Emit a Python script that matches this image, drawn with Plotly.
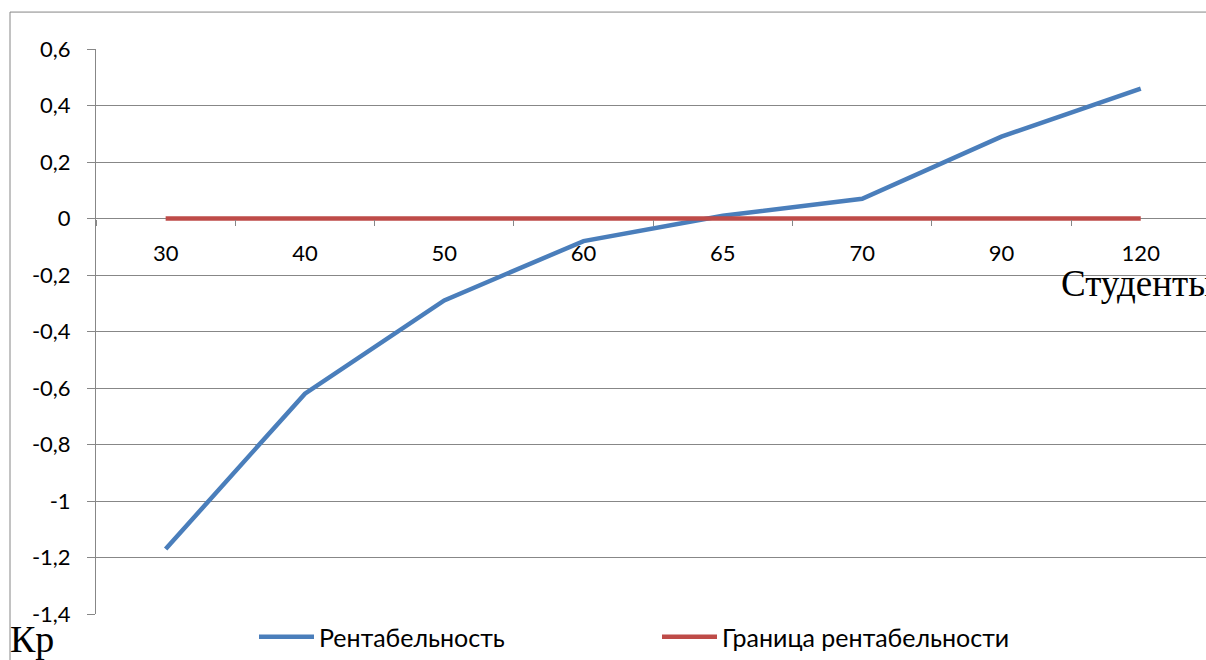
import plotly.graph_objects as go

categories = ["30", "40", "50", "60", "65", "70", "90", "120"]
rentabelnost = [-1.17, -0.62, -0.29, -0.08, 0.01, 0.07, 0.29, 0.46]
granitsa = [0, 0, 0, 0, 0, 0, 0, 0]
y_ticks = [0.6, 0.4, 0.2, 0, -0.2, -0.4, -0.6, -0.8, -1.0, -1.2, -1.4]

# body margin is removed below, so figure pixels == page pixels
W, H = 1206, 660
PLOT_L, PLOT_T, PLOT_B = 96, 49, 615
ML, MT, MR = PLOT_L, PLOT_T, 0
MB = H - PLOT_B
plot_w = W - ML - MR
plot_h = H - MT - MB
cat_w = 139.3

FONT = "Lato"
GRID = "#878787"

fig = go.Figure()
fig.add_trace(go.Scatter(
    x=categories, y=rentabelnost, mode="lines", name="Рентабельность",
    line=dict(color="#4a7ebb", width=4.5),
))
fig.add_trace(go.Scatter(
    x=categories, y=granitsa, mode="lines", name="Граница рентабельности",
    line=dict(color="#be4b48", width=4.5),
))

def px_x(px):
    return (px - PLOT_L) / plot_w

def px_y(py):
    return (PLOT_B - py) / plot_h

ytext = []
for v in y_ticks:
    if abs(v - round(v)) < 1e-9:
        ytext.append(str(int(round(v))))
    else:
        ytext.append(("%.1f" % v).replace(".", ","))

fig.update_layout(
    width=W, height=H,
    margin=dict(l=ML, r=MR, t=MT, b=MB),
    paper_bgcolor="white", plot_bgcolor="white",
    separators=", ",
    font=dict(family=FONT, size=22, color="#000000"),
    showlegend=True,
    legend=dict(
        orientation="h", x=px_x(254), xanchor="left", y=px_y(638), yanchor="middle",
        font=dict(family=FONT, size=25, color="#000000"),
        entrywidth=333, entrywidthmode="pixels",
        bgcolor="rgba(0,0,0,0)", itemwidth=55,
    ),
    xaxis=dict(
        type="category", range=[-0.5, -0.5 + plot_w / cat_w],
        tickson="boundaries", ticks="outside", ticklen=6, tickcolor=GRID, tickwidth=1,
        showgrid=False, showline=False, zeroline=False,
        anchor="free", position=1.4 / 2.0,
        tickfont=dict(family=FONT, size=22, color="#000000"),
        ticklabelstandoff=19,
    ),
    yaxis=dict(
        range=[-1.4, 0.6], tickmode="array", tickvals=y_ticks, ticktext=ytext,
        showgrid=True, gridcolor=GRID, gridwidth=1,
        zeroline=True, zerolinecolor=GRID, zerolinewidth=1,
        showline=True, linecolor=GRID, linewidth=1,
        ticks="outside", ticklen=8, tickcolor=GRID, tickwidth=1,
        tickfont=dict(family=FONT, size=22, color="#000000"),
        ticklabelstandoff=12,
    ),
)

# outer chart border
fig.add_shape(type="rect", xref="paper", yref="paper",
              x0=px_x(10), x1=px_x(1230), y0=px_y(700), y1=px_y(12),
              line=dict(color="#868686", width=1), fillcolor="rgba(0,0,0,0)", layer="below")

fig.add_annotation(text="Студенты", xref="paper", yref="paper",
                   x=px_x(1059), y=px_y(284), xanchor="left", yanchor="middle",
                   showarrow=False, font=dict(family="Liberation Serif", size=37, color="#000000"))
fig.add_annotation(text="Кр", xref="paper", yref="paper",
                   x=px_x(8), y=px_y(640), xanchor="left", yanchor="middle",
                   showarrow=False, font=dict(family="Liberation Serif", size=38, color="#000000"))

fig.write_html("out.html", config={"displayModeBar": False},
               post_script="document.body.style.margin='0';document.body.style.overflow='hidden';")
